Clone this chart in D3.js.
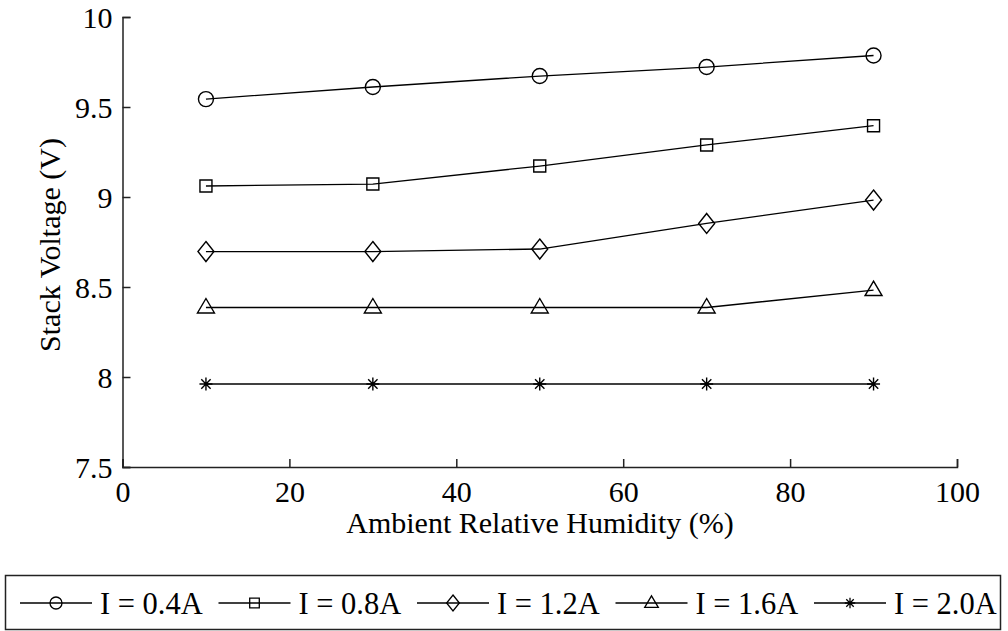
<!DOCTYPE html>
<meta charset="utf-8">
<style>
  body { margin: 0; background: #fff; }
  text { font-family: "Liberation Serif", "Times New Roman", serif; fill: #000; }
</style>
<body>
<script src="https://cdn.jsdelivr.net/npm/d3@7"></script>
<script>

// data
var humidity = [10, 30, 50, 70, 90];
var labels   = ["I = 0.4A", "I = 0.8A", "I = 1.2A", "I = 1.6A", "I = 2.0A"];
var markers  = ["circle", "square", "diamond", "triangle", "star"];
var v04 = [9.544, 9.611, 9.672, 9.722, 9.786];
var v08 = [9.061, 9.072, 9.172, 9.289, 9.396];
var v12 = [8.697, 8.697, 8.711, 8.853, 8.983];
var v16 = [8.386, 8.386, 8.386, 8.386, 8.483];
var v20 = [7.961, 7.961, 7.961, 7.961, 7.961];
var xTicks = [0, 20, 40, 60, 80, 100];
var yTicks = [7.5, 8, 8.5, 9, 9.5, 10];

var series = [v04, v08, v12, v16, v20];

const width = 1008, height = 631;
var mLeft = 122.5, mRight = 957, mTop = 17, mBottom = 467;

var xScale = d3.scaleLinear().domain([0, 100]).range([mLeft, mRight]);
var yScale = d3.scaleLinear().domain([7.5, 10]).range([mBottom, mTop]);

var svg = d3.select("body").append("svg")
  .attr("width", width)
  .attr("height", height);

// marker shapes, drawn around 0,0
function markerPath(kind, s) {
  var p = d3.path();
  if (kind == "circle") {
    p.moveTo(7.5*s, 0);
    p.arc(0, 0, 7.5*s, 0, 2*Math.PI);
  } else if (kind == "square") {
    p.rect(-6*s, -6*s, 12*s, 12*s);
  } else if (kind == "diamond") {
    p.moveTo(0, -10*s); p.lineTo(8*s, 0); p.lineTo(0, 10*s); p.lineTo(-8*s, 0); p.closePath();
  } else if (kind == "triangle") {
    p.moveTo(0, -9*s); p.lineTo(8.5*s, 5.5*s); p.lineTo(-8.5*s, 5.5*s); p.closePath();
  } else {
    var r = 6.5*s, q = r*0.72;
    p.moveTo(0, -r); p.lineTo(0, r);
    p.moveTo(-r, 0); p.lineTo(r, 0);
    p.moveTo(-q, -q); p.lineTo(q, q);
    p.moveTo(-q, q); p.lineTo(q, -q);
  }
  return p.toString();
}

// axes: left and bottom only, ticks pointing inward
var xAxis = d3.axisBottom(xScale).tickValues(xTicks).tickSizeInner(-8).tickSizeOuter(-8).tickPadding(14);
var yAxis = d3.axisLeft(yScale).tickValues(yTicks).tickFormat(d => String(d))
  .tickSizeInner(-8).tickSizeOuter(-8).tickPadding(10);

var gx = svg.append("g").attr("transform", `translate(0,${mBottom})`).call(xAxis);
var gy = svg.append("g").attr("transform", `translate(${mLeft},0)`).call(yAxis);

[gx, gy].forEach(g => {
  g.selectAll("path, line").attr("stroke", "#222").attr("stroke-width", 1.5);
  g.selectAll("text").style("font-size", "30px").attr("fill", "#000");
});
gy.selectAll("text").attr("dy", "0.34em");
gx.selectAll("text").attr("dy", "0.71em");

svg.append("text")
  .attr("x", 540)
  .attr("y", 533)
  .attr("text-anchor", "middle")
  .style("font-size", "30px")
  .text("Ambient Relative Humidity (%)");

svg.append("text")
  .attr("transform", "translate(60,245) rotate(-90)")
  .attr("text-anchor", "middle")
  .style("font-size", "30px")
  .text("Stack Voltage (V)");

var line = d3.line()
  .x((d, i) => xScale(humidity[i]))
  .y(d => yScale(d));

series.forEach((vals, k) => {
  var g = svg.append("g");
  g.append("path")
    .attr("d", line(vals))
    .attr("fill", "none")
    .attr("stroke", "#000")
    .attr("stroke-width", 1.3);
  g.selectAll("path.mk")
    .data(vals)
    .enter()
    .append("path")
      .classed("mk", true)
      .attr("transform", (d, i) => `translate(${xScale(humidity[i])},${yScale(d)})`)
      .attr("d", markerPath(markers[k], 1))
      .attr("fill", "none")
      .attr("stroke", "#000")
      .attr("stroke-width", 1.4);
});

// legend
var legend = svg.append("g");
legend.append("rect")
  .attr("x", 5.5).attr("y", 575.5)
  .attr("width", 995).attr("height", 54)
  .attr("fill", "#fff")
  .attr("stroke", "#222")
  .attr("stroke-width", 1.5);

var items = legend.selectAll("g.item")
  .data(labels)
  .enter()
  .append("g")
    .classed("item", true)
    .attr("transform", (d, i) => `translate(${20 + i*198.5},603)`);

items.append("line")
  .attr("x1", 0).attr("x2", 72)
  .attr("y1", 0).attr("y2", 0)
  .attr("stroke", "#000").attr("stroke-width", 1.3);

items.append("path")
  .attr("transform", "translate(36,0)")
  .attr("d", (d, i) => markerPath(markers[i], 0.8))
  .attr("fill", "none")
  .attr("stroke", "#000")
  .attr("stroke-width", 1.3);

items.append("text")
  .attr("x", 80)
  .attr("y", 10.5)
  .style("font-size", "30.5px")
  .text(d => d);

</script>
</body>
